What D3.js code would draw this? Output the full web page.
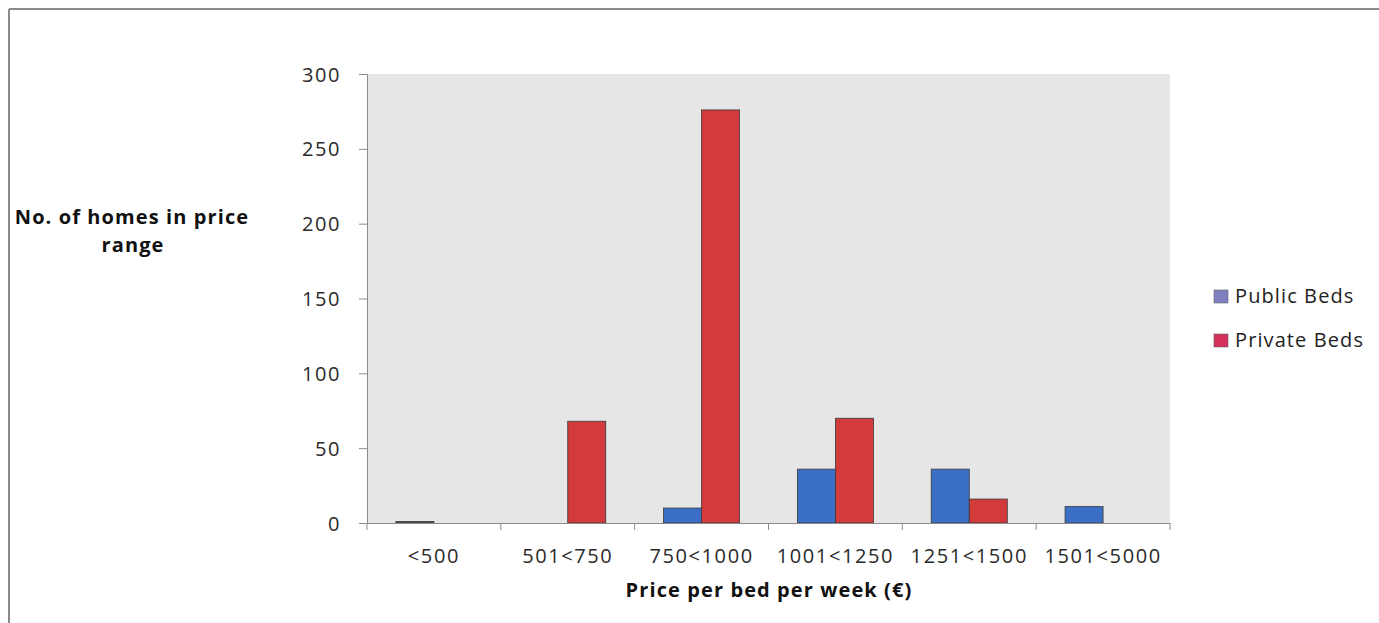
<!DOCTYPE html>
<html><head><meta charset="utf-8">
<script src="https://d3js.org/d3.v7.min.js"></script>
<style>
body{margin:0;background:#fff;}
text{font-family:"Open Sans",sans-serif;}
</style></head>
<body><svg id="c" width="1379" height="623"></svg>
<script>
const categories = ["<500","501<750","750<1000","1001<1250","1251<1500","1501<5000"];
const seriesNames = ["Public Beds","Private Beds"];
const publicBeds = [1,0,10,36,36,11];
const privateBeds = [0,68,276,70,16,0];
const yTicks = [0,50,100,150,200,250,300];
const barColors = ["#3b6fc6","#d23a3c"];
const legendColors = ["#7f7fc0","#d4305c"];

const svg = d3.select("#c");
const W = 1379, H = 623;
const L = 367, R = 1170, T = 74, B = 523;

// frame
svg.append("line").attr("x1",9).attr("x2",W).attr("y1",9).attr("y2",9).attr("stroke","#8a8a8a").attr("stroke-width",2);
svg.append("line").attr("x1",9).attr("x2",9).attr("y1",9).attr("y2",H).attr("stroke","#8a8a8a").attr("stroke-width",2);

const x = d3.scaleBand().domain(categories).range([L,R]).padding(0);
const xs = d3.scaleBand().domain(seriesNames).range([0,x.bandwidth()]).paddingInner(0).paddingOuter(0.76);
const y = d3.scaleLinear().domain([0,300]).range([B,T]);

svg.append("rect").attr("x",L).attr("y",T).attr("width",R-L).attr("height",B-T).attr("fill","#e6e6e6");

const data = categories.map((c,i)=>({c, vals:[publicBeds[i],privateBeds[i]]}));
const g = svg.append("g");
data.forEach(d=>{
  d.vals.forEach((v,j)=>{
    if(v<=0) return;
    g.append("rect")
      .attr("x",x(d.c)+xs(seriesNames[j]))
      .attr("y",y(v))
      .attr("width",xs.bandwidth())
      .attr("height",B-y(v))
      .attr("fill", d.c==="<500" ? "#555" : barColors[j])
      .attr("stroke","#3a3a3a").attr("stroke-width",0.8);
  });
});

// y axis
const ya = svg.append("g").attr("transform",`translate(${L},0)`)
  .call(d3.axisLeft(y).tickValues(yTicks).tickSize(8).tickPadding(18));
ya.select(".domain").attr("stroke","#8c8c8c");
ya.selectAll(".tick line").attr("stroke","#8c8c8c");
ya.selectAll(".tick text").attr("font-size",20).attr("fill","#2a2a2a").attr("letter-spacing","1.6px").attr("dy","0.35em");

// x axis
const xa = svg.append("g").attr("transform",`translate(0,${B})`)
  .call(d3.axisBottom(x).tickSize(0).tickPadding(26));
xa.select(".domain").attr("stroke","#8c8c8c");
xa.selectAll(".tick text").attr("font-size",20).attr("fill","#2a2a2a").attr("letter-spacing","1.6px");
const bounds = categories.map(c=>x(c)).concat([R]);
svg.append("g").selectAll("line").data(bounds).join("line")
  .attr("x1",d=>d).attr("x2",d=>d).attr("y1",B).attr("y2",B+7).attr("stroke","#8c8c8c");

// axis titles
const titleStyle = s => s.attr("font-size",20).attr("font-weight","bold").attr("fill","#111").attr("letter-spacing","1.1px").attr("text-anchor","middle");
svg.append("text").attr("x",132).attr("y",224).call(titleStyle).text("No. of homes in price");
svg.append("text").attr("x",133).attr("y",252).call(titleStyle).text("range");
svg.append("text").attr("x",769).attr("y",597).call(titleStyle).text("Price per bed per week (€)");

// legend
const lg = svg.append("g");
seriesNames.forEach((s,i)=>{
  const yy = 290 + i*44;
  lg.append("rect").attr("x",1214).attr("y",yy).attr("width",14).attr("height",13).attr("fill",legendColors[i]).attr("stroke","#666").attr("stroke-width",0.6);
  lg.append("text").attr("x",1235).attr("y",yy+13).attr("font-size",20).attr("fill","#222").attr("letter-spacing","1.1px").text(s);
});
</script></body></html>
